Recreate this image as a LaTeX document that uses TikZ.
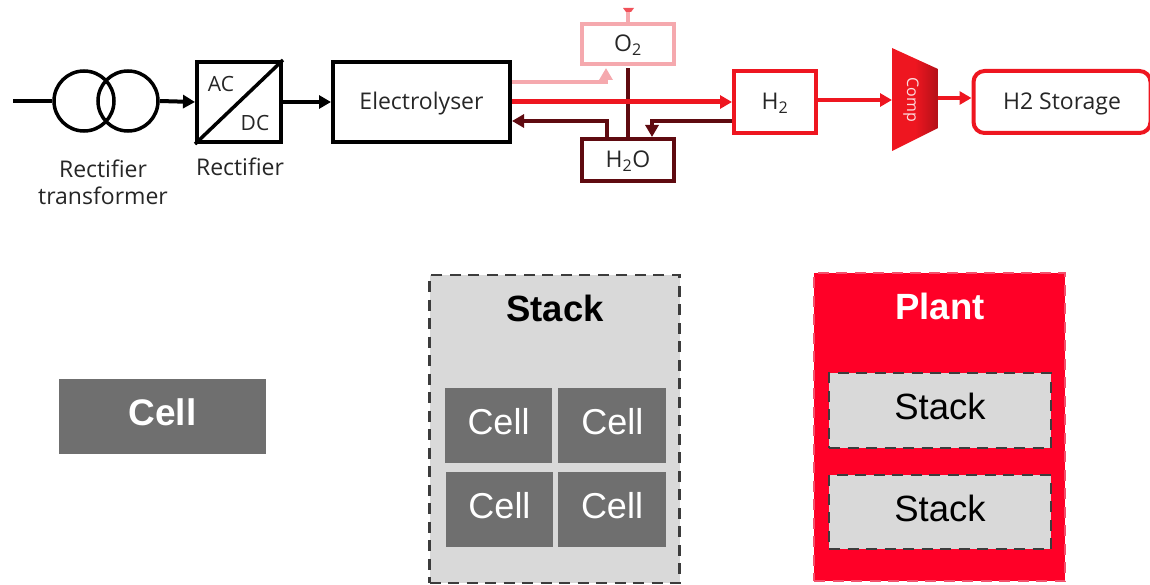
\documentclass[tikz,border=0pt]{standalone}
\usepackage{fontspec}
\setmainfont{Liberation Sans}
\newfontfamily\flowfont{Open Sans}
\usetikzlibrary{calc,positioning,arrows.meta}
\definecolor{oxyline}{HTML}{F5A9AE}
\definecolor{hydroline}{HTML}{EE1620}
\definecolor{waterline}{HTML}{5F0A10}
\definecolor{cellgrey}{HTML}{6F6F6F}
\definecolor{stackgrey}{HTML}{D9D9D9}
\definecolor{plantred}{HTML}{FF0027}
\definecolor{plantedge}{HTML}{F4506C}
\definecolor{dashgrey}{HTML}{3C3C3C}

\begin{document}
\begin{tikzpicture}[x=1pt,y=-1pt,>={Triangle[length=12pt,width=13pt]},
	flowbox/.style={draw,line width=4pt,rectangle,inner sep=0pt,text height=16pt,text depth=0pt,text=black!85,font=\flowfont\fontsize{23}{27}\selectfont},
	flowtext/.style={font=\flowfont\fontsize{23}{27}\selectfont,text=black!85,inner sep=0pt},
	flow/.style={line width=4pt},
	winding/.style={draw,circle,line width=3.5pt,minimum size=60pt,inner sep=0pt},
	cellbox/.style={fill=cellgrey,text=white,minimum width=107pt,minimum height=75pt,inner sep=0pt,text height=26pt,text depth=8pt,font=\fontsize{36}{40}\selectfont},
	stackbox/.style={draw=dashgrey,fill=stackgrey,line width=2.8pt,dash pattern=on 11pt off 7.5pt,inner sep=0pt,text height=26pt,text depth=8pt},
	bigtitle/.style={inner sep=0pt,font=\bfseries\fontsize{36.5}{40}\selectfont}]
	\useasboundingbox (0,0) rectangle (1150,585);

	% upper chain
	\coordinate (mains) at (13,101);
	\node[winding] (wind1) at (84,101) {};
	\node[winding] (wind2) at (128,101) {};
	\node[flowbox,minimum width=84pt,minimum height=80pt] (rect) at (239,102) {};
	\node[flowbox,minimum width=177pt,minimum height=80pt] (elec) at (421.5,102) {Electrolyser};
	\draw[line width=3.5pt] (rect.south west) -- (rect.north east);
	\node[flowtext,font=\flowfont\fontsize{21}{24}\selectfont] (ac) at (221,84) {AC};
	\node[flowtext,font=\flowfont\fontsize{21}{24}\selectfont] (dc) at (255,123) {DC};
	\node[flowtext,align=center] (transformerlabel) at (103,182) {Rectifier\\transformer};
	\node[flowtext] (rectlabel) at (240,167) {Rectifier};

	\draw[flow] (mains) -- (wind1.west);
	\draw[flow,->] (wind2.east) -- (rect.west);
	\draw[flow,->] (rect.east) -- (elec.west);

	% gas and water boxes
	\node[flowbox,draw=oxyline,minimum width=92pt,minimum height=40pt] (oxy) at (628,44) {O\textsubscript{2}};
	\node[flowbox,draw=waterline,minimum width=92pt,minimum height=42pt] (water) at (628,160) {H\textsubscript{2}O};
	\node[flowbox,draw=hydroline,minimum width=82pt,minimum height=62pt] (hydro) at (775,102) {H\textsubscript{2}};
	\node[flowbox,draw=hydroline,rounded corners=11pt,minimum width=177pt,minimum height=62pt] (store) at (1062,102) {H2 Storage};
	\shade[left color=hydroline,right color=hydroline!75!black,middle color=hydroline] (892,48) -- (938,69) -- (938,128) -- (892,151) -- cycle;
	\node[inner sep=0pt,rotate=-90,text=white!85!hydroline,font=\flowfont\fontsize{16}{18}\selectfont] (comp) at (911,100) {Comp};
	\coordinate (compin) at (892,100);
	\coordinate (compout) at (938,98);

	% oxygen
	\coordinate (oxytop) at (628,9);
	\draw[flow,draw=oxyline] (oxy.north) -- (oxytop);
	\fill[oxyline!40!hydroline] (623,8) -- (634,8) -- (631,12) -- (626,12) -- cycle;
	\draw[flow,draw=oxyline,->] ($(elec.east)+(0,-20)$) -| ($(oxy.south)+(-22,2)$);

	% water
	\draw[flow,draw=waterline] (water.north) -- ($(oxy.south)+(0,2)$);
	\draw[flow,draw=waterline,->] ($(water.north)+(-21,0)$) |- ($(elec.east)+(0,19)$);
	\draw[flow,draw=waterline,->] ($(hydro.west)+(0,19)$) -| ($(water.north)+(24,0)$);

	% hydrogen
	\draw[flow,line width=5pt,draw=hydroline,->] (elec.east) -- (hydro.west);
	\draw[flow,draw=hydroline,->] ($(hydro.east)+(0,-2)$) -- (compin);
	\draw[flow,draw=hydroline,->] (compout) -- ($(store.west)+(0,-4)$);

	% lower row
	\node[cellbox,minimum width=207pt,font=\bfseries\fontsize{37}{40}\selectfont] (cellalone) at (162.5,416.5) {Cell};

	\node[stackbox,minimum width=250pt,minimum height=308pt] (stackouter) at (554.5,429) {};
	\node[bigtitle] (stacktitle) at (555,308) {Stack};
	\node[cellbox] (cella) at (498.5,425.5) {Cell};
	\node[cellbox,right=6pt of cella,minimum width=108pt] (cellb) {Cell};
	\node[cellbox] (cellc) at (499.5,509.5) {Cell};
	\node[cellbox,minimum width=108pt] (celld) at (612,509.5) {Cell};

	\node[stackbox,fill=plantred,draw=plantedge,minimum width=251pt,minimum height=308pt] (plant) at (939.5,427) {};
	\node[bigtitle,text=white] (planttitle) at (940,306) {Plant};
	\node[stackbox,minimum width=222pt,minimum height=75pt,font=\fontsize{36.5}{40}\selectfont] (stacka) at (940,410.5) {Stack};
	\node[stackbox,minimum width=222pt,minimum height=74pt,font=\fontsize{36.5}{40}\selectfont] (stackb) at (940,512) {Stack};
\end{tikzpicture}
\end{document}
